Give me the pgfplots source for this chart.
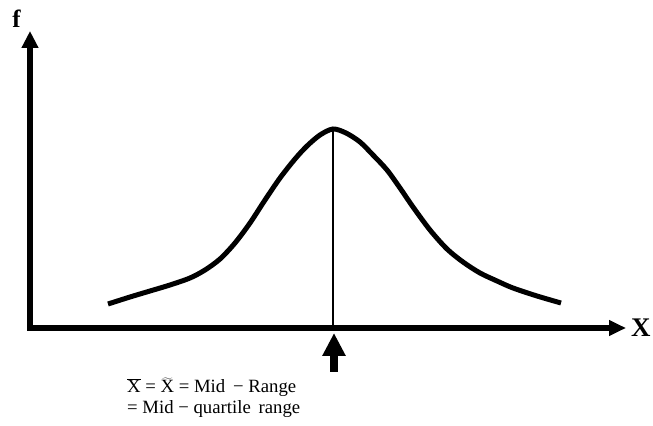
\documentclass[border=0pt]{standalone}
\usepackage{pgfplots}
\pgfplotsset{compat=1.18}
\usetikzlibrary{arrows.meta}
\usepackage{fontspec}
\setmainfont{Liberation Serif}
\begin{document}
\begin{tikzpicture}
\begin{axis}[
  scale only axis, width=653bp, height=426bp,
  xmin=0, xmax=653, ymin=0, ymax=426,
  hide axis, clip=false,
]
\path (axis cs:0,0) rectangle (axis cs:653,426);
% axes
\addplot[black, line width=5.5bp, line join=miter,
  {Triangle[length=17bp,width=16bp]}-{Triangle[length=17bp,width=15bp]}]
  coordinates {(30,395) (30,98) (626,98)};
% curve
\addplot[black, line width=5bp, smooth, tension=0.5] coordinates {
 (108,122) (130,129) (150,135) (170,141) (190,148) (205,156) (220,167) (235,183)
 (250,203) (265,226) (280,248) (295,267) (307,280) (320,291) (333,297)
 (346,293) (360,284) (373,271) (387,256) (400,238) (413,219) (430,196) (447,177)
 (463,164) (480,153) (497,145) (513,138) (537,130) (561,123)};
% vertical line at mode
\addplot[black, line width=1.3bp] coordinates {(333,98) (333,297)};
% up arrow
\addplot[black, line width=8.5bp, -{Triangle[length=23bp,width=22bp]}]
  coordinates {(334,54) (334,93)};
\node[font=\fontsize{25}{28}\selectfont\bfseries] at (axis cs:16.5,407.5) {f};
\node[font=\fontsize{27}{30}\selectfont\bfseries, anchor=base west, inner sep=0pt] at (axis cs:631,89) {X};
\node[font=\fontsize{18.8}{22}\selectfont, anchor=base west, inner sep=0pt] at (axis cs:127,33)
  {$\overline{\hbox{X}}$ = $\widetilde{\hbox{X}}$ = Mid\, − Range};
\node[font=\fontsize{18.8}{22}\selectfont, anchor=base west, inner sep=0pt] at (axis cs:127,13)
  {= Mid − quartile\, range};
\end{axis}
\end{tikzpicture}
\end{document}
